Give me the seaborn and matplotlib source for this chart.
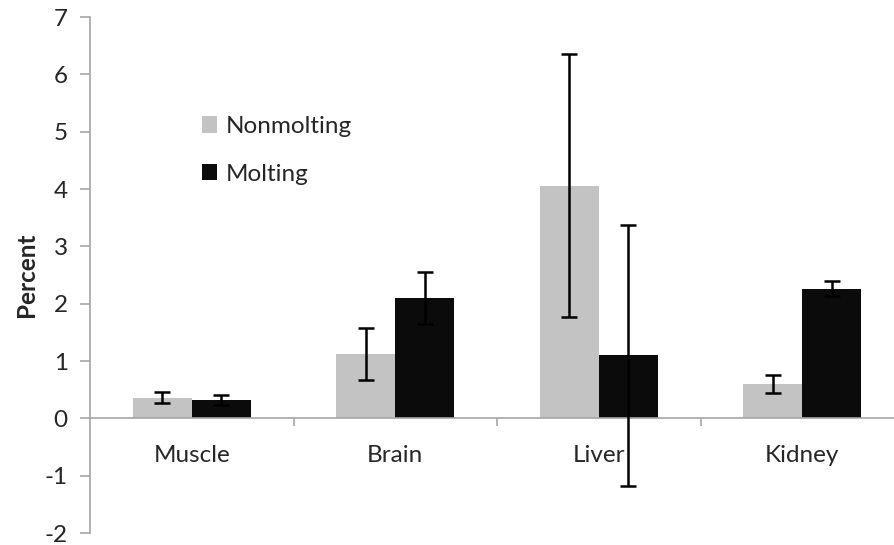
import matplotlib
matplotlib.use("Agg")
import matplotlib.pyplot as plt
import seaborn as sns
import pandas as pd
from matplotlib.patches import Patch

tissues = ["Muscle", "Brain", "Liver", "Kidney"]
groups = ["Nonmolting", "Molting"]
nonmolting = [0.36, 1.12, 4.06, 0.60]
molting = [0.32, 2.10, 1.10, 2.26]
nonmolting_err = [0.10, 0.46, 2.29, 0.15]
molting_err = [0.09, 0.45, 2.28, 0.13]
yticks = [-2, -1, 0, 1, 2, 3, 4, 5, 6, 7]

colors = ["#c3c3c3", "#0b0b0b"]

df = pd.DataFrame({
    "Tissue": tissues * 2,
    "Group": [groups[0]] * 4 + [groups[1]] * 4,
    "Percent": nonmolting + molting,
})
errs = nonmolting_err + molting_err

sns.set_style("white")
plt.rcParams["font.family"] = ["Lato", "DejaVu Sans"]
FS = 17.5

fig = plt.figure(figsize=(8.95, 5.45), dpi=100)
ax = fig.add_axes([90 / 895, 1 - 533 / 545, 814 / 895, (533 - 17) / 545])

sns.barplot(data=df, x="Tissue", y="Percent", hue="Group", order=tissues,
            hue_order=groups, palette=colors, width=0.58, dodge=True,
            saturation=1, errorbar=None, ax=ax, legend=False, linewidth=0)

bars = [p for p in ax.patches if p.get_width() > 0]
for p, e in zip(bars, errs):
    cx = p.get_x() + p.get_width() / 2
    h = p.get_height()
    ax.errorbar(cx, h, yerr=e, color="black", lw=1.8, capsize=6, capthick=1.8,
                zorder=5)

ax.set_xlim(-0.5, 3.5)
ax.set_ylim(-2, 7)
ax.set_yticks(yticks)
ax.set_yticklabels([str(t) for t in yticks], fontsize=FS)
ax.set_ylabel("Percent", fontsize=FS, fontweight="bold", labelpad=5)
ax.set_xlabel("")

for s in ["top", "right"]:
    ax.spines[s].set_visible(False)
ax.spines["bottom"].set_position(("data", 0))
for s in ["bottom", "left"]:
    ax.spines[s].set_color("#a5a5a5")
    ax.spines[s].set_linewidth(1.2)

ax.tick_params(axis="y", direction="out", length=7, color="#a5a5a5", width=1.2,
               left=True, labelsize=FS, pad=9)
ax.set_xticks(range(4))
ax.set_xticklabels(tissues, fontsize=FS)
ax.tick_params(axis="x", which="major", length=0, pad=19, bottom=True)
ax.set_xticks([0.5, 1.5, 2.5], minor=True)
ax.tick_params(axis="x", which="minor", direction="out", length=6,
               color="#a5a5a5", width=1.2, bottom=True)
ax.grid(False)

handles = [Patch(facecolor=colors[0], edgecolor="none"),
           Patch(facecolor=colors[1], edgecolor="none")]
ax.legend(handles, groups, loc="upper left", bbox_to_anchor=(0.137, 0.808),
          frameon=False, fontsize=FS, handlelength=0.65, handleheight=0.65,
          handletextpad=0.35, labelspacing=1.1, borderaxespad=0,
          borderpad=0)

fig.savefig("out.png", dpi=100)
